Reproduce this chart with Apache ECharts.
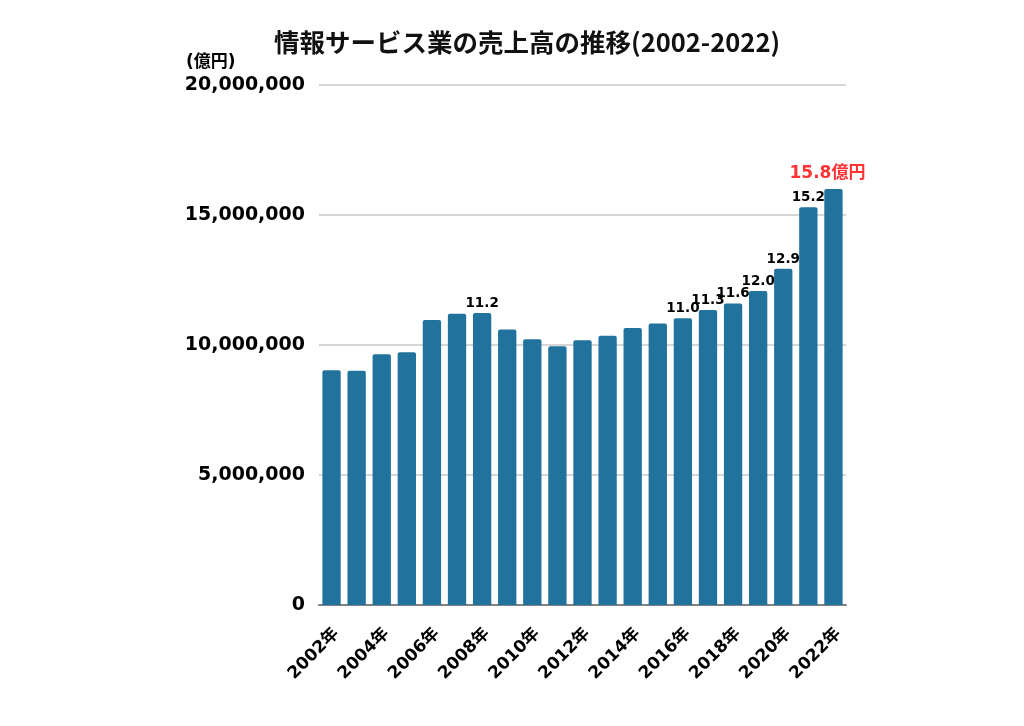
<!DOCTYPE html>
<html><head><meta charset="utf-8">
<script src="https://cdn.jsdelivr.net/npm/echarts@6/dist/echarts.min.js"></script>
<style>html,body{margin:0;padding:0;background:#fff}#c{width:1024px;height:726px}</style>
</head><body><div id="c"></div>
<script>
const years = ['2002年','2003年','2004年','2005年','2006年','2007年','2008年','2009年','2010年','2011年','2012年','2013年','2014年','2015年','2016年','2017年','2018年','2019年','2020年','2021年','2022年'];
const sales = [9030000,9010000,9640000,9720000,10960000,11200000,11230000,10600000,10220000,9950000,10180000,10360000,10650000,10830000,11030000,11350000,11600000,12080000,12930000,15300000,16000000];
const barLabels = ['','','','','','','11.2','','','','','','','','11.0','11.3','11.6','12.0','12.9','15.2','15.8億円'];
const yMin = 0, yMax = 20000000, yStep = 5000000;
const titleText = '情報サービス業の売上高の推移(2002-2022)';
const unitText = '(億円)';

const numFont = '"DejaVu Sans", "Noto Sans CJK JP", sans-serif';
const chart = echarts.init(document.getElementById('c'), null, {renderer: 'canvas'});
const lastIdx = sales.length - 1;
chart.setOption({
  animation: false,
  backgroundColor: '#ffffff',
  title: [
    {text: titleText, left: 269, top: 25,
     textStyle: {fontFamily: '"Noto Sans CJK JP", sans-serif', fontWeight: 'bold', fontSize: 25.5, color: '#111'}},
    {text: unitText, left: 181, top: 49,
     textStyle: {fontFamily: numFont, fontWeight: 'bold', fontSize: 17, color: '#000'}}
  ],
  grid: {left: 319, right: 178, top: 85, bottom: 121, containLabel: false},
  xAxis: {
    type: 'category', data: years,
    axisTick: {show: false},
    axisLine: {lineStyle: {color: '#808080', width: 2}},
    axisLabel: {rotate: 45, interval: 1, margin: 31, padding: [0, -7, 0, 0], color: '#000', fontWeight: 'bold', fontSize: 17, fontFamily: numFont}
  },
  yAxis: {
    type: 'value', min: yMin, max: yMax, interval: yStep,
    axisLine: {show: false}, axisTick: {show: false},
    splitLine: {lineStyle: {color: '#c8c8c8', width: 1.5}},
    axisLabel: {margin: 14, color: '#000', fontWeight: 'bold', fontSize: 19, fontFamily: numFont,
      formatter: v => v.toLocaleString('en-US')}
  },
  series: [{
    type: 'bar',
    barCategoryGap: '27%',
    itemStyle: {color: '#21739d', borderRadius: [2,2,0,0]},
    label: {show: true, position: 'top', distance: 3, color: '#000', fontWeight: 'bold', fontSize: 13.5, fontFamily: numFont,
      formatter: p => barLabels[p.dataIndex]},
    data: sales.map((v, i) => i === lastIdx
      ? {value: v, label: {color: '#ff3333', fontSize: 17, distance: 7, offset: [-6, 0]}}
      : v)
  }]
});
</script></body></html>
